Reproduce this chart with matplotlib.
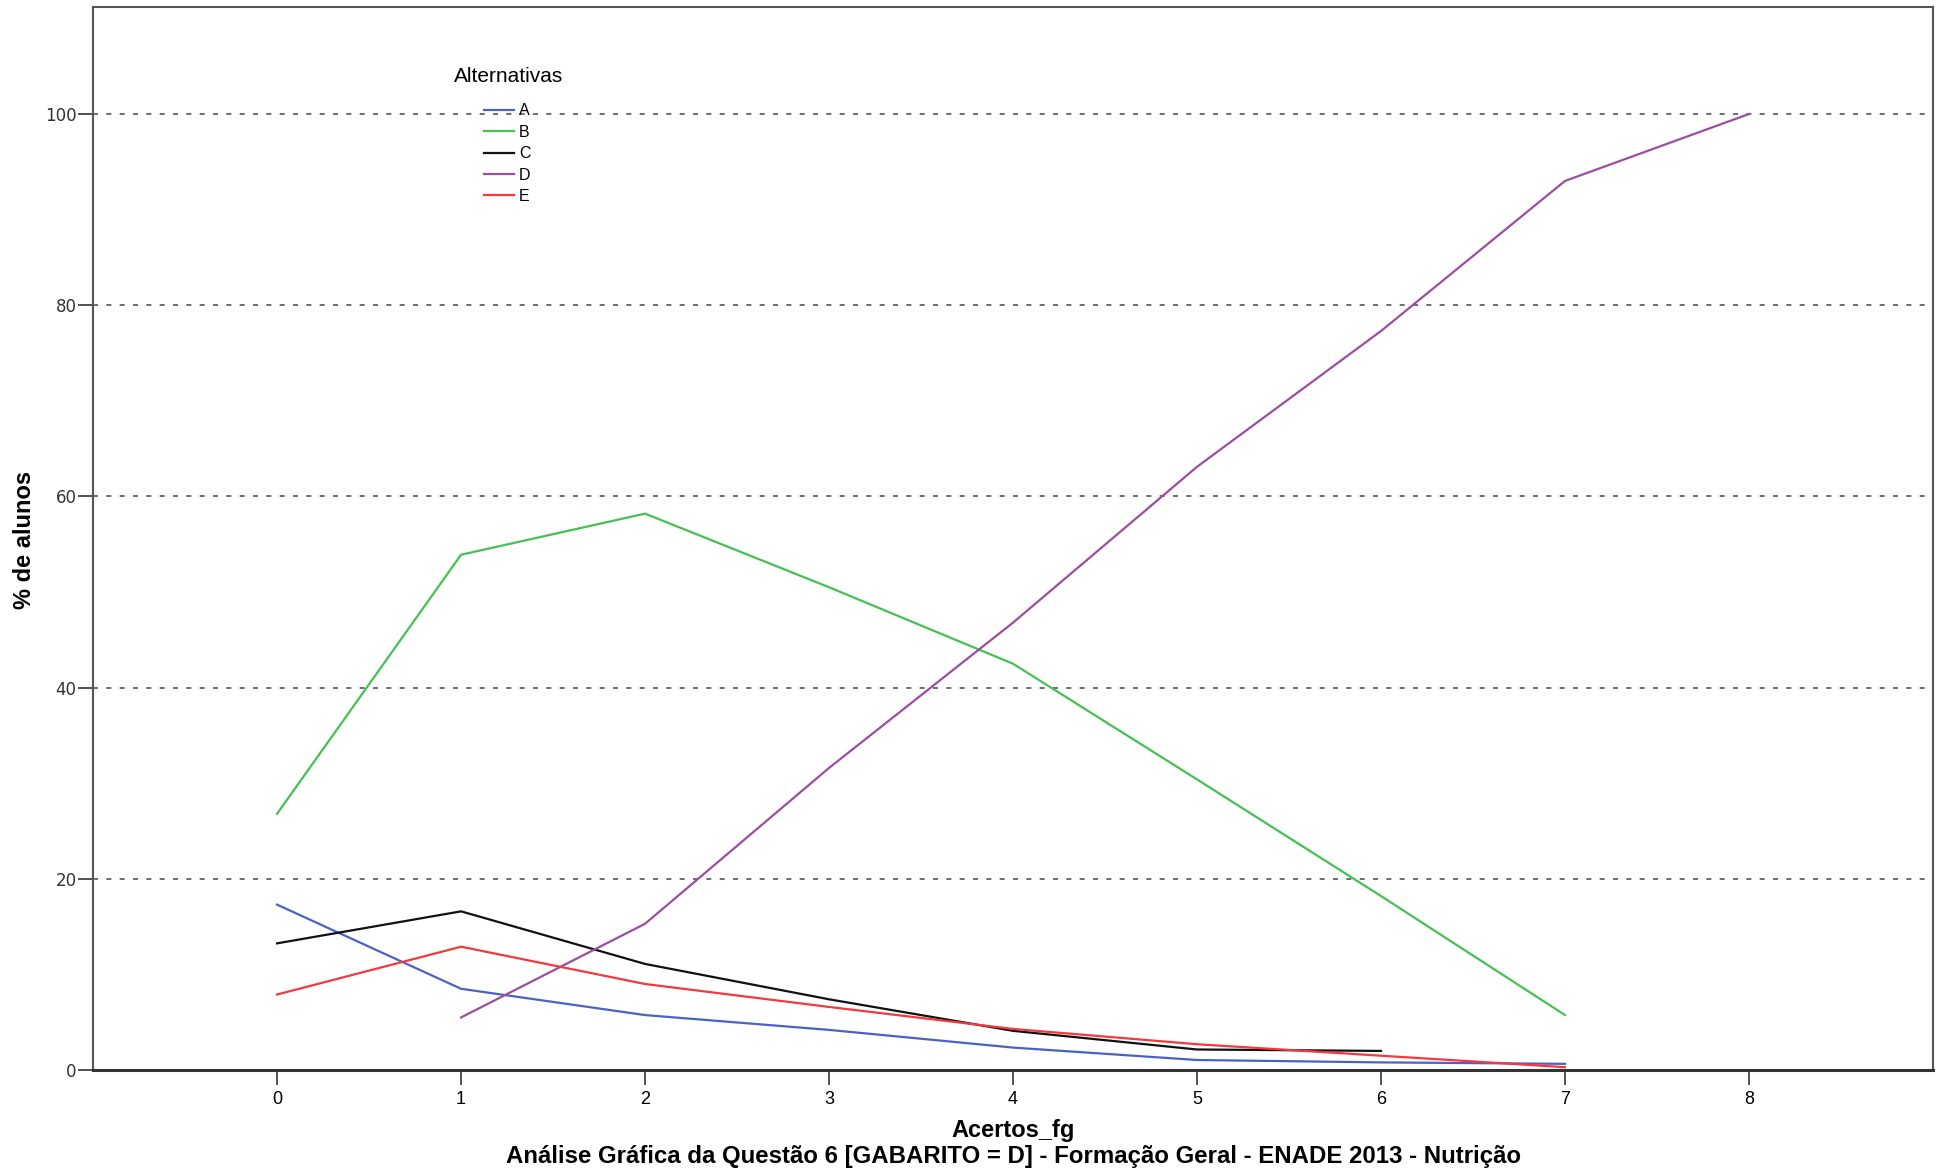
import numpy as np
import matplotlib
matplotlib.use('Agg')
import matplotlib.pyplot as plt

# Acertos_fg (0..8) e % de alunos por alternativa
acertos = [0, 1, 2, 3, 4, 5, 6, 7, 8]
alt_a = [17.3, 8.5, 5.75, 4.2, 2.35, 1.05, 0.8, 0.65, np.nan]
alt_b = [26.8, 53.9, 58.2, 50.5, 42.5, 30.4, 18.2, 5.75, np.nan]
alt_c = [13.25, 16.6, 11.1, 7.4, 4.1, 2.15, 2.0, np.nan, np.nan]
alt_d = [np.nan, 5.5, 15.3, 31.6, 46.8, 63.1, 77.3, 93.0, 100.0]
alt_e = [7.9, 12.9, 9.0, 6.6, 4.3, 2.7, 1.5, 0.3, np.nan]

nomes = ['A', 'B', 'C', 'D', 'E']
cores = ['#4a62c4', '#45c153', '#111111', '#9b4ea0', '#f5383d']
series = [alt_a, alt_b, alt_c, alt_d, alt_e]

arial = ['Liberation Sans', 'DejaVu Sans']

fig = plt.figure(figsize=(19.47, 11.76), dpi=100)
ax = fig.add_axes([0.0478, 0.0901, 0.945, 0.904])

for nome, cor, vals in zip(nomes, cores, series):
    ax.plot(acertos, vals, color=cor, lw=1.6, label=nome)

ax.set_xlim(-1, 9)
ax.set_ylim(0, 111.2)
ax.set_xticks(acertos)
ax.set_yticks([0, 20, 40, 60, 80, 100])
for yv in [20, 40, 60, 80, 100]:
    ax.axhline(yv, color='#555555', lw=1.2, ls=(0, (3, 5)), zorder=0)

ax.tick_params(axis='both', direction='out', length=11, width=1.2, colors='#333333',
               labelsize=12)
ax.tick_params(axis='y', pad=1)
ax.tick_params(axis='x', labelcolor='black', pad=4, labelsize=13)
for lb in ax.get_xticklabels():
    lb.set_family(arial)
for s in ax.spines.values():
    s.set_color('#555555')
    s.set_linewidth(1.5)
ax.spines['bottom'].set_color('#333333')
ax.spines['bottom'].set_linewidth(2.2)

fig.text(0.0128, 0.541, '% de alunos', rotation=90, ha='center', va='center',
         fontsize=17, fontweight='bold', family=arial)
fig.text(0.5205, 0.039, 'Acertos_fg', ha='center', va='center',
         fontsize=17, fontweight='bold', family=arial)
fig.text(0.5205, 0.017, 'Análise Gráfica da Questão 6 [GABARITO = D] - Formação Geral - ENADE 2013 - Nutrição',
         ha='center', va='center', fontsize=17.3, fontweight='bold', family=arial)

fig.text(0.2332, 0.935, 'Alternativas', ha='left', va='center', fontsize=15, family=arial)
leg = ax.legend(loc='upper left', bbox_to_anchor=(0.2486, 0.912),
                bbox_transform=fig.transFigure,
                frameon=False, handlelength=1.9,
                handletextpad=0.3, labelspacing=0.4, borderaxespad=0,
                borderpad=0, prop={'family': arial, 'size': 11.5})

fig.savefig('out.png', dpi=100)
